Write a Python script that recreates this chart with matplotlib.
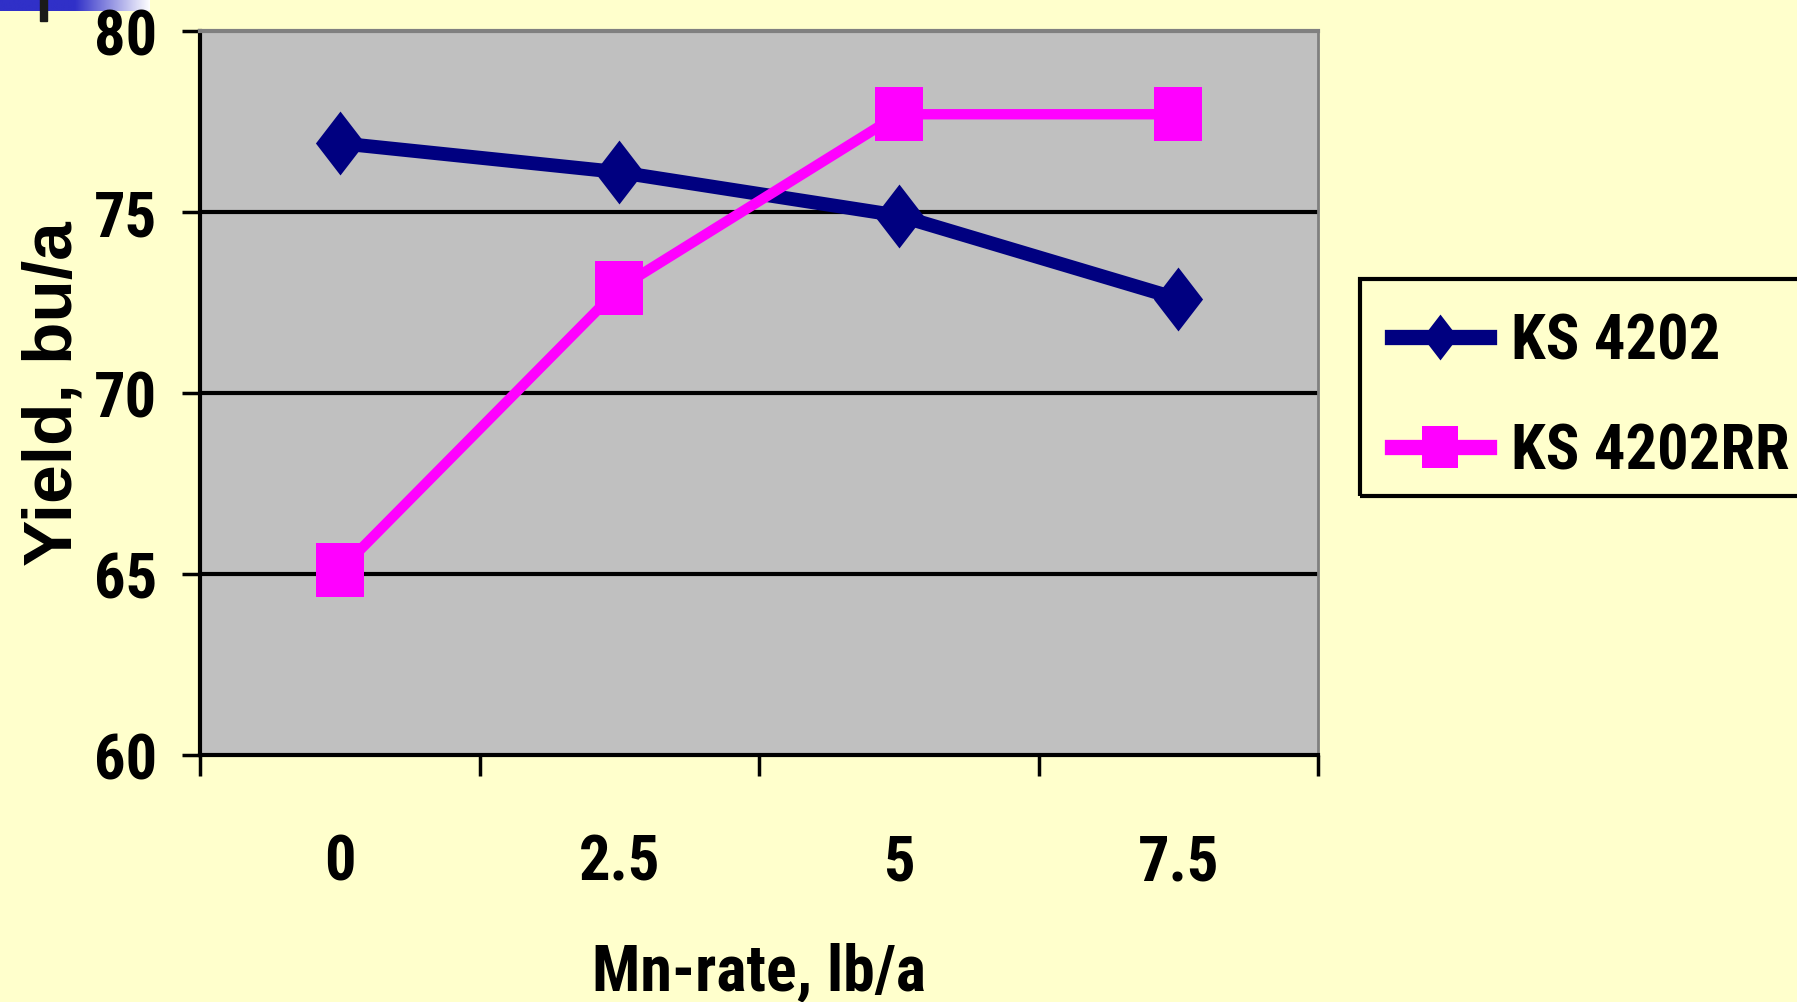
import numpy as np
import matplotlib
matplotlib.use("Agg")
import matplotlib.pyplot as plt
from matplotlib.path import Path
from matplotlib.lines import Line2D
from matplotlib.patches import Rectangle
from matplotlib.colors import LinearSegmentedColormap

# data
rates = ["0", "2.5", "5", "7.5"]
ks4202 = [76.9, 76.1, 74.9, 72.6]
ks4202rr = [65.1, 72.9, 77.7, 77.7]
y_ticks = [60, 65, 70, 75, 80]

BG = "#FFFFCC"
PLOT_BG = "#C0C0C0"
NAVY = "#000080"
MAGENTA = "#FF00FF"
NARROW = ["Roboto Condensed", "PT Sans Narrow", "Liberation Sans", "DejaVu Sans"]
WIDE = ["Liberation Sans", "DejaVu Sans"]
FS = 45

# the slide was squeezed sideways, so markers are taller than wide
diamond = Path([(0, 1.3), (1, 0), (0, -1.3), (-1, 0), (0, 1.3)],
               [Path.MOVETO, Path.LINETO, Path.LINETO, Path.LINETO, Path.CLOSEPOLY])
square = Path([(-0.88, -1), (0.88, -1), (0.88, 1), (-0.88, 1), (-0.88, -1)],
              [Path.MOVETO, Path.LINETO, Path.LINETO, Path.LINETO, Path.CLOSEPOLY])

W, H = 1797, 1003
fig = plt.figure(figsize=(W / 100, H / 100), dpi=100, facecolor=BG)

# slide remnants in the top-left corner
grad = fig.add_axes([0, 1 - 12 / H, 150 / W, 12 / H])
cmap = LinearSegmentedColormap.from_list("bar", ["#3030C8", "#3030C8", "#FFFFFF"])
grad.imshow(np.linspace(0, 1, 256)[None, :], cmap=cmap, aspect="auto")
grad.axis("off")
fig.patches.append(Rectangle((40 / W, 1 - 22 / H), 7 / W, 22 / H,
                             transform=fig.transFigure, color="#1a1a1a"))

ax = fig.add_axes([200 / W, 1 - 756 / H, (1318 - 200) / W, (756 - 32) / H])
ax.set_facecolor(PLOT_BG)

x = np.arange(len(rates))
ax.plot(x, ks4202, color=NAVY, lw=10, marker=diamond, ms=46,
        markeredgewidth=0, zorder=3)
ax.plot(x, ks4202rr, color=MAGENTA, lw=7.5, marker=square, ms=39,
        markeredgewidth=0, zorder=4)

ax.set_xlim(-0.5, len(rates) - 0.5)
ax.set_ylim(60, 80)
ax.set_yticks(y_ticks)
ax.set_yticklabels([str(v) for v in y_ticks], fontfamily=NARROW,
                   fontweight="bold", fontsize=FS)
ax.set_xticks(np.arange(len(rates) + 1) - 0.5, minor=False)
ax.set_xticklabels([])
ax.set_xticks(x, minor=True)
ax.set_xticklabels(rates, minor=True, fontfamily=NARROW,
                   fontweight="bold", fontsize=FS)
ax.tick_params(axis="x", which="major", length=15, width=2.5, direction="out")
ax.tick_params(axis="x", which="minor", length=0, pad=56)
ax.tick_params(axis="y", length=13, width=2.5, direction="out", pad=18)

for yv in y_ticks[1:-1]:
    ax.axhline(yv, color="black", lw=3, zorder=1)

ax.spines["left"].set_linewidth(3)
ax.spines["bottom"].set_linewidth(3)
ax.spines["top"].set_color("#808080")
ax.spines["top"].set_linewidth(3)
ax.spines["right"].set_color("#808080")
ax.spines["right"].set_linewidth(2)

ax.set_xlabel("Mn-rate, lb/a", fontfamily=NARROW, fontweight="bold",
              fontsize=46, labelpad=35)
ax.set_ylabel("Yield, bu/a", fontfamily=WIDE, fontweight="bold",
              fontsize=50, labelpad=6)

# legend frame runs past the right edge of the slide, so draw it by hand
fig.patches.append(Rectangle((1360 / W, 1 - 497 / H), 460 / W, 217 / H,
                             transform=fig.transFigure, fill=False,
                             edgecolor="black", lw=3, zorder=2))
handles = [
    Line2D([], [], color=NAVY, lw=11, marker=diamond, ms=33, markeredgewidth=0),
    Line2D([], [], color=MAGENTA, lw=11, marker=square, ms=30, markeredgewidth=0),
]
fig.legend(handles, ["KS 4202", "KS 4202RR"], loc="upper left",
           bbox_to_anchor=(1392 / W, 1 - 313 / H), borderaxespad=0, borderpad=0,
           frameon=False, handlelength=1.55, handletextpad=0.35,
           labelspacing=0.8, prop={"family": NARROW, "weight": "bold", "size": FS})

fig.savefig("out.png", dpi=100, facecolor=BG)
